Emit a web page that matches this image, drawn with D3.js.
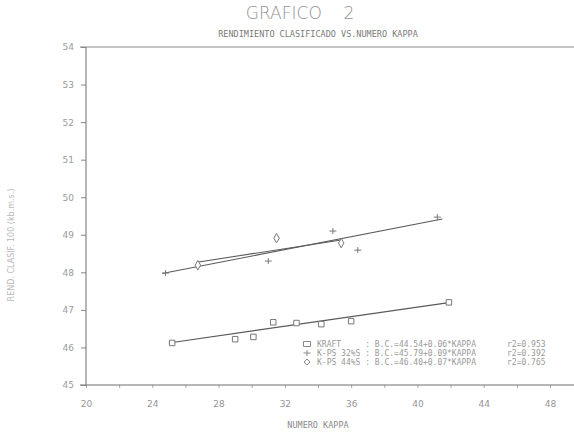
<!DOCTYPE html>
<html>
<head>
<meta charset="utf-8">
<script src="https://cdn.jsdelivr.net/npm/d3@7"></script>
<style>
  body { margin: 0; background: #fff; }
  text { font-family: "DejaVu Sans", sans-serif; fill: #8a8a8a; }
  .mono { font-family: "DejaVu Sans Mono", monospace; }
</style>
</head>
<body>
<svg id="chart" width="574" height="433"></svg>
<script>
// data
var kraftX = [25.2, 29.0, 30.1, 31.3, 32.7, 34.2, 36.0, 41.9];
var kraftY = [46.12, 46.22, 46.28, 46.67, 46.65, 46.62, 46.70, 47.20];
var ps32X = [24.8, 31.0, 34.9, 36.4, 41.2];
var ps32Y = [47.98, 48.30, 49.10, 48.59, 49.47];
var ps44X = [26.75, 31.5, 35.4];
var ps44Y = [48.19, 48.91, 48.78];
// fitted lines (end points)
var kraftFit = [[25, 46.12], [42, 47.2]];
var ps32Fit = [[24.6, 47.97], [41.5, 49.42]];
var ps44Fit = [[26.7, 48.27], [35.4, 48.86]];
var xTicks = [20, 22, 24, 26, 28, 30, 32, 34, 36, 38, 40, 42, 44, 46, 48];
var xLabels = [20, 24, 28, 32, 36, 40, 44, 48];
var yTicks = [45, 46, 47, 48, 49, 50, 51, 52, 53, 54];
var legendNames = ["KRAFT    ", "K-PS 32%S", "K-PS 44%S"];
var legendEq = ["B.C.=44.54+0.06*KAPPA", "B.C.=45.79+0.09*KAPPA", "B.C.=46.40+0.07*KAPPA"];
var legendR2 = ["r2=0.953", "r2=0.392", "r2=0.765"];

var svg = d3.select("#chart");
var x = d3.scaleLinear().domain([20, 48]).range([86, 550]);
var y = d3.scaleLinear().domain([45, 54]).range([385, 47]);
var ink = "#6e6e6e";

// title
svg.append("text").attr("x", 300).attr("y", 19).attr("text-anchor", "middle")
  .style("font-size", "17px").style("font-weight", "300").style("fill", "#929292")
  .attr("xml:space", "preserve").text("GRAFICO    2");
svg.append("text").attr("x", 318).attr("y", 37).attr("text-anchor", "middle")
  .attr("class", "mono").style("font-size", "8.5px").style("fill", "#7a7a7a")
  .text("RENDIMIENTO CLASIFICADO VS.NUMERO KAPPA");

// axes
var xAxis = svg.append("g").attr("transform", "translate(0," + y(45) + ")")
  .call(d3.axisBottom(x).tickValues(xTicks).tickSize(3).tickFormat(function(d) {
    return xLabels.indexOf(d) >= 0 ? d : "";
  }));
xAxis.select(".domain").remove();
xAxis.selectAll("line").attr("stroke", "#aaa");
xAxis.selectAll("text").style("font-size", "9px").style("fill", "#959595").attr("dy", "1.8em");
svg.append("line").attr("x1", 80).attr("x2", 574).attr("y1", y(45)).attr("y2", y(45))
  .attr("stroke", ink).attr("stroke-width", 1);

var yAxis = svg.append("g").attr("transform", "translate(" + x(20) + ",0)")
  .call(d3.axisLeft(y).tickValues(yTicks).tickSize(5).tickFormat(d3.format("d")));
yAxis.select(".domain").remove();
yAxis.selectAll("line").attr("stroke", "#888");
yAxis.selectAll("text").style("font-size", "9px").style("fill", "#9a9a9a").attr("x", -12);
svg.append("line").attr("x1", x(20)).attr("x2", x(20)).attr("y1", y(54)).attr("y2", y(45))
  .attr("stroke", ink).attr("stroke-width", 1);
svg.append("line").attr("x1", 80).attr("x2", 574).attr("y1", y(54)).attr("y2", y(54))
  .attr("stroke", "#8a8a8a").attr("stroke-width", 1);

// axis titles
svg.append("text").attr("x", 318).attr("y", 428).attr("text-anchor", "middle")
  .attr("class", "mono").style("font-size", "8.5px").style("fill", "#8a8a8a").text("NUMERO KAPPA");
svg.append("text").attr("transform", "translate(14," + 245 + ") rotate(-90)")
  .attr("text-anchor", "middle").style("font-size", "8px").style("fill", "#b8b8b8")
  .text("REND. CLASIF. 100 (kb.m.s.)");

// fitted lines
var line = d3.line().x(function(d) { return x(d[0]); }).y(function(d) { return y(d[1]); });
[kraftFit, ps32Fit, ps44Fit].forEach(function(f) {
  svg.append("path").attr("d", line(f)).attr("fill", "none")
    .attr("stroke", "#5a5a5a").attr("stroke-width", 1.1);
});

// markers
var sym = {
  square: d3.symbol().type(d3.symbolSquare).size(30),
  diamond: d3.symbol().type(d3.symbolDiamond).size(26)
};
function drawPts(xs, ys, s, cls) {
  svg.selectAll("." + cls).data(xs).enter().append("path").attr("class", cls)
    .attr("transform", function(d, i) { return "translate(" + x(d) + "," + y(ys[i]) + ")"; })
    .attr("d", s).attr("fill", "#fff").attr("stroke", "#777").attr("stroke-width", 1);
}
drawPts(kraftX, kraftY, sym.square, "pk");
drawPts(ps44X, ps44Y, sym.diamond, "p44");
svg.selectAll(".p32").data(ps32X).enter().append("path").attr("class", "p32")
  .attr("transform", function(d, i) { return "translate(" + x(d) + "," + y(ps32Y[i]) + ")"; })
  .attr("d", "M-3.5,0H3.5M0,-3V3").attr("stroke", "#777").attr("stroke-width", 1);

// legend
var lg = svg.append("g").attr("transform", "translate(307,344)");
var shapes = ["M-3.5,-2.5H3.5V2.5H-3.5Z", "M-3.5,0H3.5M0,-3V3", "M0,-3L3,0L0,3L-3,0Z"];
legendNames.forEach(function(n, i) {
  var row = lg.append("g").attr("transform", "translate(0," + (i * 9) + ")");
  row.append("path").attr("d", shapes[i]).attr("fill", "none").attr("stroke", "#888");
  row.append("text").attr("class", "mono").attr("x", 10).attr("y", 3)
    .attr("xml:space", "preserve").style("font-size", "8px").style("fill", "#999")
    .text(n + " : " + legendEq[i]);
  row.append("text").attr("class", "mono").attr("x", 200).attr("y", 3)
    .style("font-size", "8px").style("fill", "#999").text(legendR2[i]);
});
</script>
</body>
</html>
